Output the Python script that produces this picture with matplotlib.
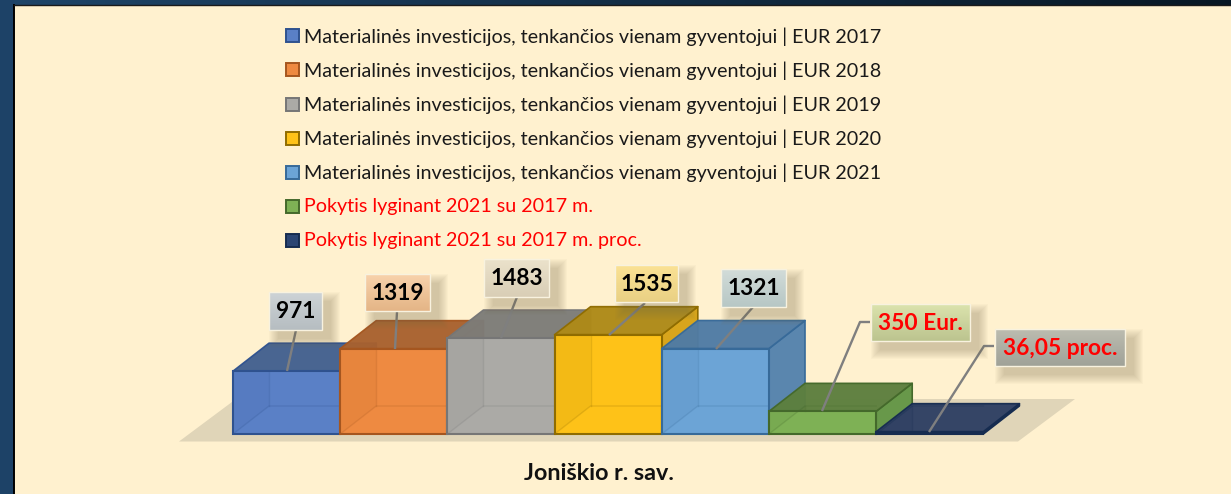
import numpy as np
import matplotlib
matplotlib.use('Agg')
import matplotlib.pyplot as plt
from matplotlib.colors import to_rgb
from matplotlib.patches import Polygon, Rectangle

plt.rcParams['font.family'] = ['Lato', 'DejaVu Sans']

W, H = 1231, 494

# data
legend_labels = ['Materialinės investicijos, tenkančios vienam gyventojui | EUR 2017',
                 'Materialinės investicijos, tenkančios vienam gyventojui | EUR 2018',
                 'Materialinės investicijos, tenkančios vienam gyventojui | EUR 2019',
                 'Materialinės investicijos, tenkančios vienam gyventojui | EUR 2020',
                 'Materialinės investicijos, tenkančios vienam gyventojui | EUR 2021',
                 'Pokytis lyginant 2021 su 2017 m.',
                 'Pokytis lyginant 2021 su 2017 m. proc.']
values = [971, 1319, 1483, 1535, 1321, 350, 36.05]
value_labels = ['971', '1319', '1483', '1535', '1321', '350 Eur.', '36,05 proc.']
category = 'Joniškio r. sav.'

edges = ['#2f528f', '#a5561f', '#767676', '#8f6c00', '#376a99', '#44692b', '#162c50']
fronts = ['#5a80c6', '#ee8a41', '#abaaa6', '#fec218', '#6ca4d6', '#7eb155', '#2b4573']
tops = ['#43608f', '#a8612f', '#7d7c78', '#ae8a18', '#4f7ba5', '#5d7f3e', '#2f4064']
sides = ['#43608f', '#a8612f', '#7d7c78', '#d8a51c', '#5a86ae', '#68984a', '#1c3053']
box_top = ['#cdd3d6', '#f8d2ac', '#ebe2cb', '#fbe294', '#d2dcd9', '#dbe3ad', '#bcbcb0']
box_bot = ['#b6bdc1', '#e4b586', '#d9ceb6', '#e9d084', '#b7c7c5', '#bcc48f', '#a0a298']
text_colors = ['black'] * 5 + ['#ff0000'] * 2

# geometry in picture pixels
x0, base = 233, 434
bar_w = 107.2
px_per_eur = 0.0647
depth_x, depth_y = 36, 28
boxes = [(269, 292, 53, 38), (365, 274, 65, 37), (484, 259, 65, 38), (615, 265, 63, 37),
         (721, 269, 65, 38), (871, 304, 99, 37), (995, 329, 130, 37)]
leaders = [[(296, 330), (287, 371)], [(397, 312), (395, 349)], [(517, 297), (501, 338)],
           [(645, 303), (609, 335)], [(753, 307), (716, 349)],
           [(870, 322), (860, 322), (822, 411)], [(994, 346), (984, 346), (929, 432)]]

fig = plt.figure(figsize=(W / 100, H / 100), dpi=100)

# background + panel, in pixels
bg = fig.add_axes([0, 0, 1, 1])
grad = np.linspace(0, 1, 200)[None, :, None]
band = (1 - grad) * np.array([0.12, 0.27, 0.41]) + grad * np.array([0.03, 0.09, 0.14])
bg.imshow(band, extent=(0, W, 6, 0), aspect='auto', zorder=0)
bg.add_patch(Rectangle((0, 0), 14, H, fc='#1d4267', ec='none', zorder=0.5))
bg.set_xlim(0, W)
bg.set_ylim(H, 0)
bg.axis('off')
bg.add_patch(Rectangle((14, 6), W - 14, H - 6, fc='#fff1cf', ec='none', zorder=1))
bg.plot([13.5, 13.5], [5, H], color='black', lw=1.4, zorder=2)
bg.plot([14, W], [5.5, 5.5], color='#1a1a1a', lw=1, zorder=2)
# floor
bg.add_patch(Polygon([(179, 441.5), (1018, 441.5), (1075, 399), (236, 399)], fc='#e0d5b8', ec='none', zorder=2))

# bars on real scales, category slots on x, EUR on y
ax = fig.add_axes([0, 0, 1, 1])
ax.patch.set_alpha(0)
ax.set_xlim(-x0 / bar_w, (W - x0) / bar_w)
ax.set_ylim(-(H - base) / px_per_eur, base / px_per_eur)
ax.axis('off')
dx = depth_x / bar_w
dy = depth_y / px_per_eur

for i, v in enumerate(values):
    a, b = i, i + 1
    kw = dict(ec=edges[i], lw=1.2, joinstyle='round')
    # right side and top of the box
    ax.add_patch(Polygon([(b, 0), (b + dx, dy), (b + dx, v + dy), (b, v)],
                         fc=sides[i], zorder=3 + i, **kw))
    ax.add_patch(Polygon([(a, v), (b, v), (b + dx, v + dy), (a + dx, v + dy)],
                         fc=tops[i], alpha=0.97, zorder=3 + i, **kw))
    ax.bar(a, v, width=1, align='edge', color=fronts[i], edgecolor=edges[i],
           linewidth=1.5, zorder=3 + i + 0.5)
    # left wall and floor seen through the front face
    ax.add_patch(Polygon([(a, 0), (a + dx, dy), (a + dx, v), (a, v)],
                         fc=edges[i], ec='none', alpha=0.09, zorder=3 + i + 0.6))
    ax.plot([a, a + dx, b], [0, dy, dy], color=edges[i], lw=1, alpha=0.22, zorder=3 + i + 0.6)
    ax.plot([a + dx, a + dx], [dy, v], color=edges[i], lw=1, alpha=0.22, zorder=3 + i + 0.6)

# labels, legend, in pixels
ov = fig.add_axes([0, 0, 1, 1])
ov.patch.set_alpha(0)

for pts in leaders:
    xs, ys = zip(*pts)
    ov.plot(xs, ys, color='#7f7f7f', lw=1.7, solid_capstyle='butt', zorder=3)

for i, (bx, by, bw, bh) in enumerate(boxes):
    # soft shadow
    for g in range(10):
        ov.add_patch(Rectangle((bx + 9 - g, by + 9 - g), bw + 2 * g, bh + 2 * g,
                               fc='#7a7050', ec='none', alpha=0.035, zorder=4))
    shade = np.linspace(0, 1, 50)[:, None, None]
    img = (1 - shade) * np.array(to_rgb(box_top[i])) + shade * np.array(to_rgb(box_bot[i]))
    ov.imshow(img, extent=(bx, bx + bw, by + bh, by), aspect='auto', zorder=5)
    ov.add_patch(Rectangle((bx, by), bw, bh, fc='none', ec='#f8f2df', lw=1, zorder=6))
    ov.text(bx + bw / 2, by + bh / 2 + 0.5, value_labels[i], ha='center', va='center', fontsize=16.4,
            fontweight='bold', color=text_colors[i], zorder=7)
ov.set_xlim(0, W)
ov.set_ylim(H, 0)
ov.axis('off')

legend_y = [36, 70, 104, 138, 172, 206, 240]
for i, lab in enumerate(legend_labels):
    ov.add_patch(Rectangle((286, legend_y[i] - 6.5), 13, 13, fc=fronts[i], ec=edges[i], lw=1.4, zorder=3))
    ov.text(304, legend_y[i] + 0.5, lab, ha='left', va='center', fontsize=14.25,
            color='#ff0000' if i >= 5 else '#1a1a1a', zorder=3)

ov.text(599, 473.5, category, ha='center', va='center', fontsize=16.8, fontweight='bold', color='#111111')

fig.savefig('out.png', dpi=100)
